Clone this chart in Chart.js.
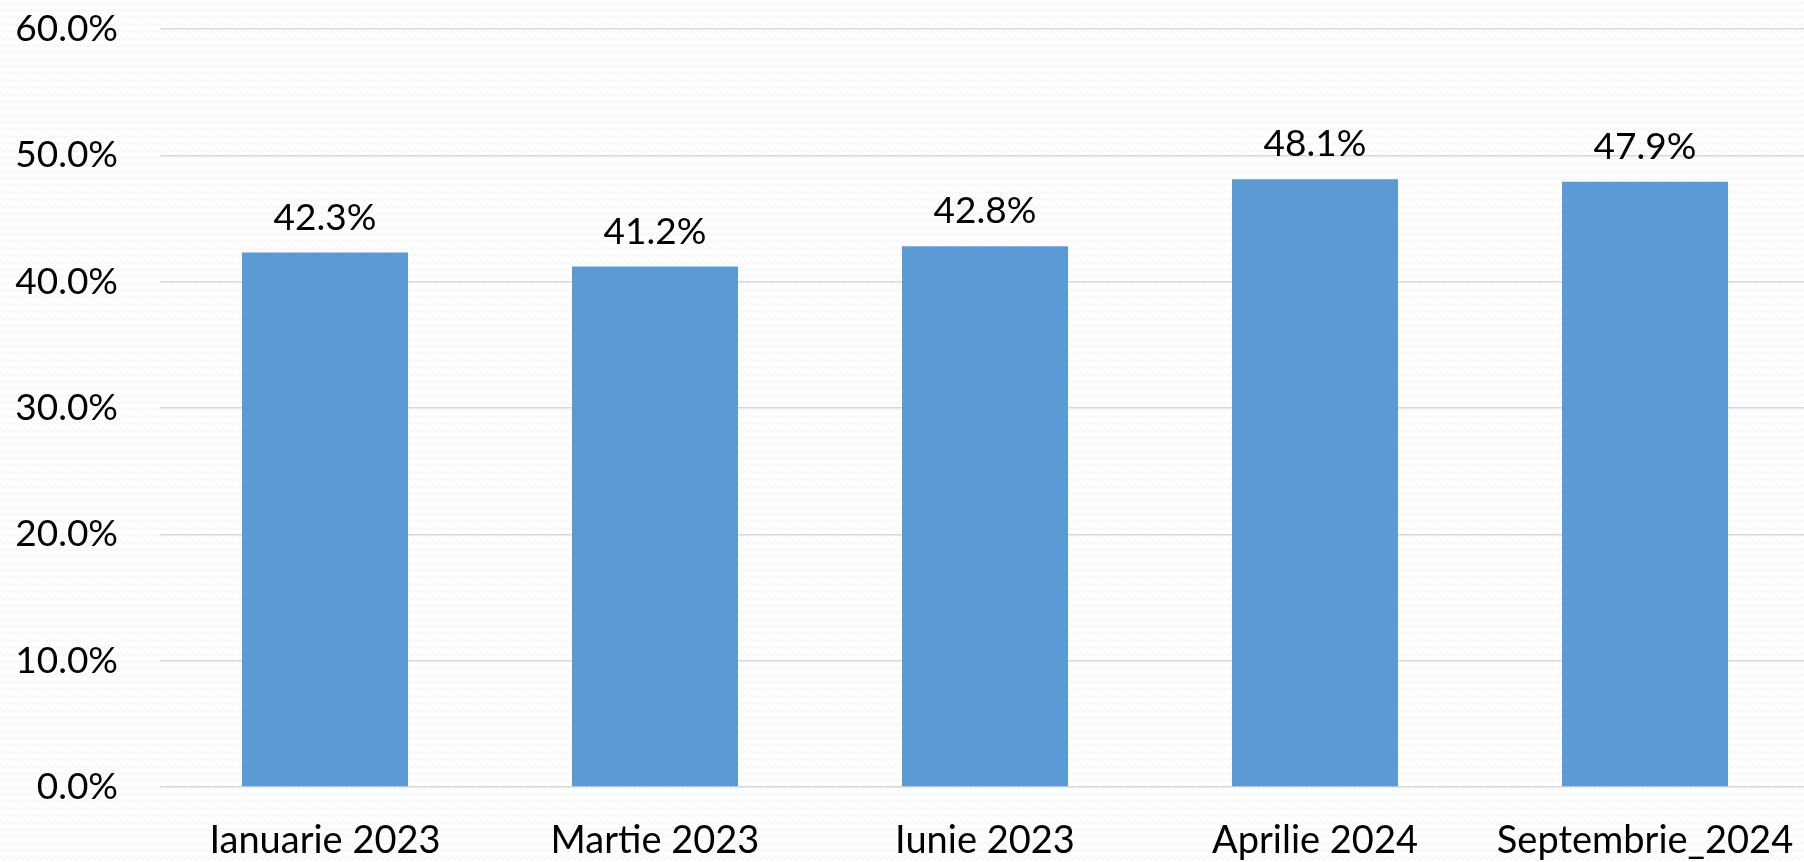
<!DOCTYPE html>
<html lang="ro">
<head>
  <meta charset="UTF-8" />
  <title>Grafic</title>
  <script src="https://cdn.jsdelivr.net/npm/chart.js@4/dist/chart.umd.min.js"></script>
  <style>
    html, body { margin: 0; padding: 0; overflow: hidden; width: 1804px; height: 862px; }
    body {
      background-color: #fff;
      background-image: url("data:image/svg+xml;utf8,<svg xmlns='http://www.w3.org/2000/svg' width='6' height='7'><path d='M0 3.5 Q1.5 1 3 3.5 T6 3.5' stroke='%23efefef' stroke-width='1' fill='none'/></svg>");
    }
    canvas { display: block; }
  </style>
</head>
<body>
  <canvas id="chart" width="1810" height="862"></canvas>

  <script>
    const categorii = ["Ianuarie 2023", "Martie 2023", "Iunie 2023", "Aprilie 2024", "Septembrie_2024"];
    const valori = [42.3, 41.2, 42.8, 48.1, 47.9];
    const yTicks = [0, 10, 20, 30, 40, 50, 60];

    const fontFam = "Lato, 'Open Sans', sans-serif";

    // etichete de valoare deasupra barelor
    const valueLabels = {
      id: "valueLabels",
      afterDatasetsDraw(chart) {
        const ctx = chart.ctx;
        const meta = chart.getDatasetMeta(0);
        ctx.save();
        ctx.font = "37px " + fontFam;
        ctx.fillStyle = "#000";
        ctx.textAlign = "center";
        ctx.textBaseline = "alphabetic";
        meta.data.forEach((bar, i) => {
          ctx.fillText(valori[i].toFixed(1) + "%", bar.x, bar.y - 23);
        });
        ctx.restore();
      }
    };

    new Chart(document.getElementById("chart"), {
      type: "bar",
      data: {
        labels: categorii,
        datasets: [{
          data: valori,
          backgroundColor: "#5b9bd5",
          borderWidth: 0,
          barPercentage: 0.503,
          categoryPercentage: 1
        }]
      },
      options: {
        responsive: false,
        animation: false,
        devicePixelRatio: 1,
        layout: { padding: { left: 0, right: 0, top: 29, bottom: 0 } },
        plugins: { legend: { display: false }, tooltip: { enabled: false } },
        scales: {
          x: {
            grid: { display: false, drawTicks: false },
            border: { display: false },
            ticks: {
              color: "#000",
              font: { family: fontFam, size: 38 },
              padding: 31,
              maxRotation: 0,
              autoSkip: false
            },
            afterFit(scale) {
              scale.height = 75;
              scale.paddingLeft = 0;
              scale.paddingRight = 0;
            }
          },
          y: {
            min: 0,
            max: 60,
            afterBuildTicks(scale) { scale.ticks = yTicks.map(v => ({ value: v })); },
            grid: { color: "#d9d9d9", lineWidth: 1.5, drawTicks: false },
            border: { display: false },
            ticks: {
              color: "#000",
              font: { family: fontFam, size: 37 },
              padding: 42,
              callback: v => v.toFixed(1) + "%"
            },
            afterFit(scale) {
              scale.width = 160;
              scale.paddingTop = 0;
              scale.paddingBottom = 0;
            }
          }
        }
      },
      plugins: [valueLabels]
    });
  </script>
</body>
</html>
